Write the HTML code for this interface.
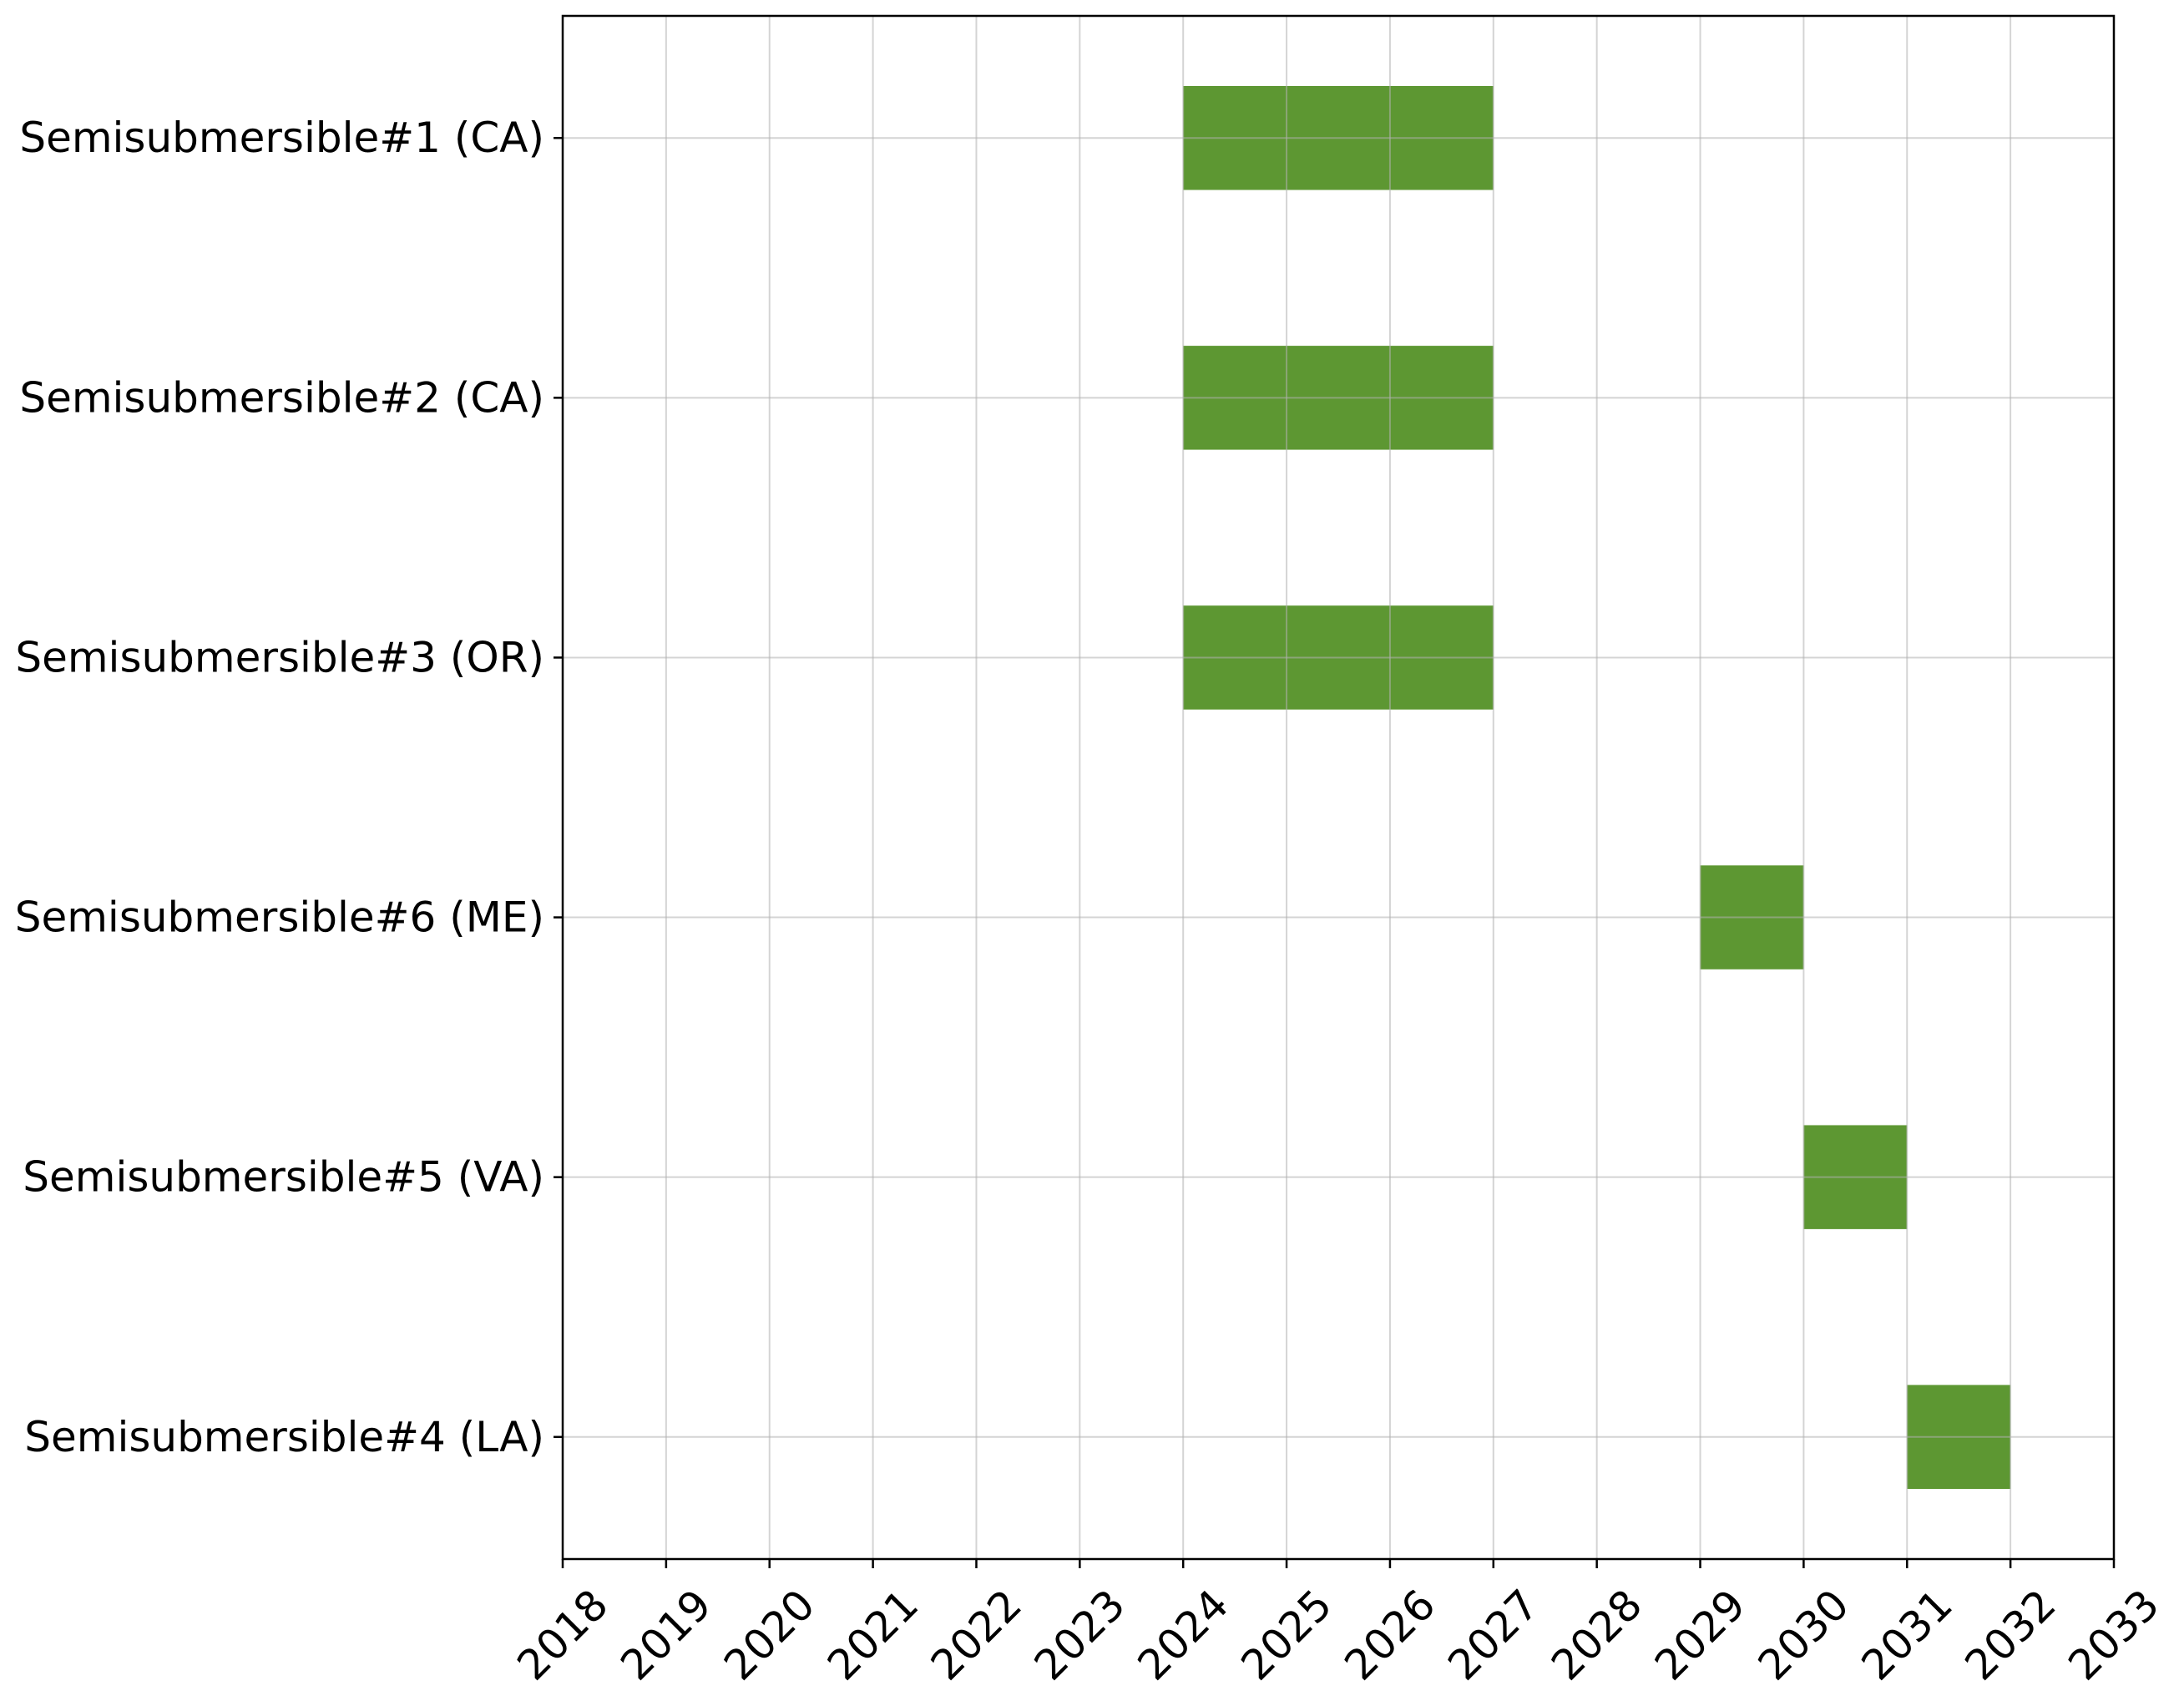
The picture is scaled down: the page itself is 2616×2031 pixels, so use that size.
<!DOCTYPE html>
<html><head><meta charset="utf-8"><style>
html,body{margin:0;padding:0;background:#fff;}
svg{display:block;font-family:"DejaVu Sans","Liberation Sans",sans-serif;}
</style></head><body>
<svg id="chart" width="2616" height="2031" viewBox="0 0 2616 2031" xmlns="http://www.w3.org/2000/svg">
<rect x="0" y="0" width="2616" height="2031" fill="#fff"/>
<g id="bars"></g><g id="grid"></g><g id="axes"></g>
</svg>
<script>
const categories = ["Semisubmersible#1 (CA)","Semisubmersible#2 (CA)","Semisubmersible#3 (OR)","Semisubmersible#6 (ME)","Semisubmersible#5 (VA)","Semisubmersible#4 (LA)"];
const startYears = [2024,2024,2024,2029,2030,2031];
const durations = [3,3,3,1,1,1];
const xTicks = [2018,2019,2020,2021,2022,2023,2024,2025,2026,2027,2028,2029,2030,2031,2032,2033];

const NS="http://www.w3.org/2000/svg";
const L=674,R=2532,T=19,B=1867;
const xMin=2018,xMax=2033,yMin=-0.47,yMax=5.47;
function xs(v){return L+(v-xMin)/(xMax-xMin)*(R-L);}
function ys(i){return T+(i-yMin)/(yMax-yMin)*(B-T);}
function mk(tag,attrs,parent){const e=document.createElementNS(NS,tag);for(const k in attrs)e.setAttribute(k,attrs[k]);parent.appendChild(e);return e;}
const gb=document.getElementById('bars'),gg=document.getElementById('grid'),ga=document.getElementById('axes');
const bh=0.4;
categories.forEach((c,i)=>{
  const r=mk('rect',{x:xs(startYears[i]),y:ys(i-bh/2),width:xs(startYears[i]+durations[i])-xs(startYears[i]),height:ys(i+bh/2)-ys(i-bh/2),fill:'#5d9732'},gb);
  
  
});
xTicks.forEach(t=>{
  const l=mk('line',{x1:xs(t),x2:xs(t),y1:T,y2:B,stroke:'#b0b0b0','stroke-opacity':0.55,'stroke-width':2},gg);
  
  
  const tk=mk('line',{x1:xs(t),x2:xs(t),y1:B,y2:B+11,stroke:'#000','stroke-width':2.5},ga);
  
  
  const cx=xs(t),cy=1958;
  const tx=mk('text',{x:cx,y:cy,'text-anchor':'middle','dominant-baseline':'central','font-size':50,fill:'#000',transform:`rotate(-45 ${cx} ${cy})`},ga);
  tx.textContent=t;
  
  
});
categories.forEach((c,i)=>{
  const l=mk('line',{x1:L,x2:R,y1:ys(i),y2:ys(i),stroke:'#b0b0b0','stroke-opacity':0.55,'stroke-width':2},gg);
  
  
  const tk=mk('line',{x1:L-11,x2:L,y1:ys(i),y2:ys(i),stroke:'#000','stroke-width':2.5},ga);
  
  
  const tx=mk('text',{x:L-22,y:ys(i),'text-anchor':'end','dominant-baseline':'central','font-size':50,fill:'#000'},ga);
  tx.textContent=c;
  
  
});
const fr=mk('rect',{x:L,y:T,width:R-L,height:B-T,fill:'none',stroke:'#000','stroke-width':2.5},ga);


</script>
</body></html>
